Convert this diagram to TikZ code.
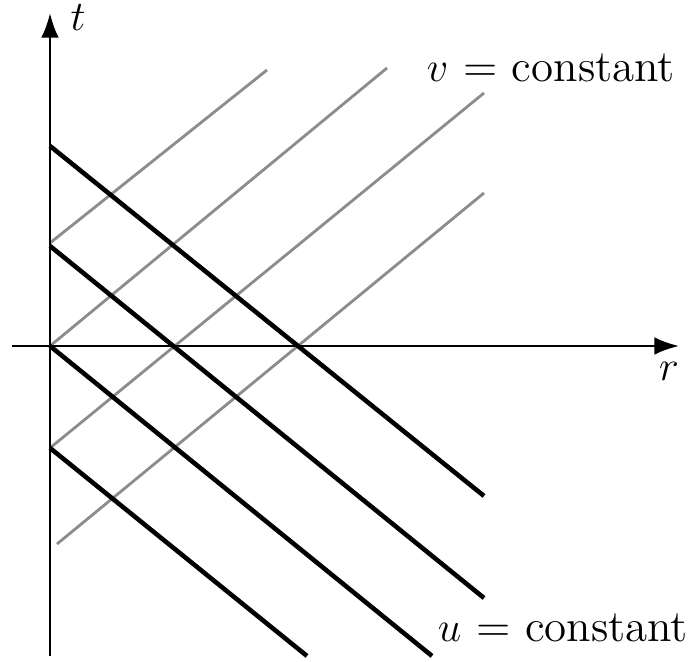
\documentclass[tikz,border=0pt]{standalone}
\usetikzlibrary{arrows.meta}
\begin{document}
\begin{tikzpicture}[
  axisline/.style={line width=0.7pt,-{Latex[length=7pt,width=5pt]}},
  uline/.style={line width=1.3pt,black},
  vline/.style={line width=0.8pt,black!45},
  lbl/.style={font=\fontsize{12.8}{15}\selectfont,inner sep=0pt}
]
  \useasboundingbox (-0.5,-3.16) rectangle (6.38,3.46);
  % end points on the t axis and out in the plane
  \coordinate (tbot) at (0,-3.1);
  \coordinate (ttop) at (0,3.33);
  \coordinate (rleft) at (-0.38,0);
  \coordinate (rright) at (6.29,0);
  % v = constant (outgoing)
  \draw[vline] (0,1.03) coordinate (va1) -- (2.17,2.76) coordinate (vb1);
  \draw[vline] (0,0) coordinate (va2) -- (3.37,2.78) coordinate (vb2);
  \draw[vline] (0,-1.02) coordinate (va3) -- (4.34,2.53) coordinate (vb3);
  \draw[vline] (0.07,-1.98) coordinate (va4) -- (4.34,1.53) coordinate (vb4);
  % u = constant (ingoing)
  \draw[uline] (0,2) coordinate (ua1) -- (4.34,-1.5) coordinate (ub1);
  \draw[uline] (0,1) coordinate (ua2) -- (4.34,-2.52) coordinate (ub2);
  \draw[uline] (0,0) coordinate (ua3) -- (3.82,-3.1) coordinate (ub3);
  \draw[uline] (0,-1.02) coordinate (ua4) -- (2.57,-3.1) coordinate (ub4);
  % axes
  \draw[axisline] (tbot) -- (ttop);
  \draw[axisline] (rleft) -- (rright);
  \node[lbl] (tlab) at (0.28,3.28) {$t$};
  \node[lbl] (rlab) at (6.19,-0.25) {$r$};
  \node[lbl] (vlab) at (5.01,2.78) {$v$ = constant};
  \node[lbl] (ulab) at (5.13,-2.82) {$u$ = constant};
\end{tikzpicture}
\end{document}
